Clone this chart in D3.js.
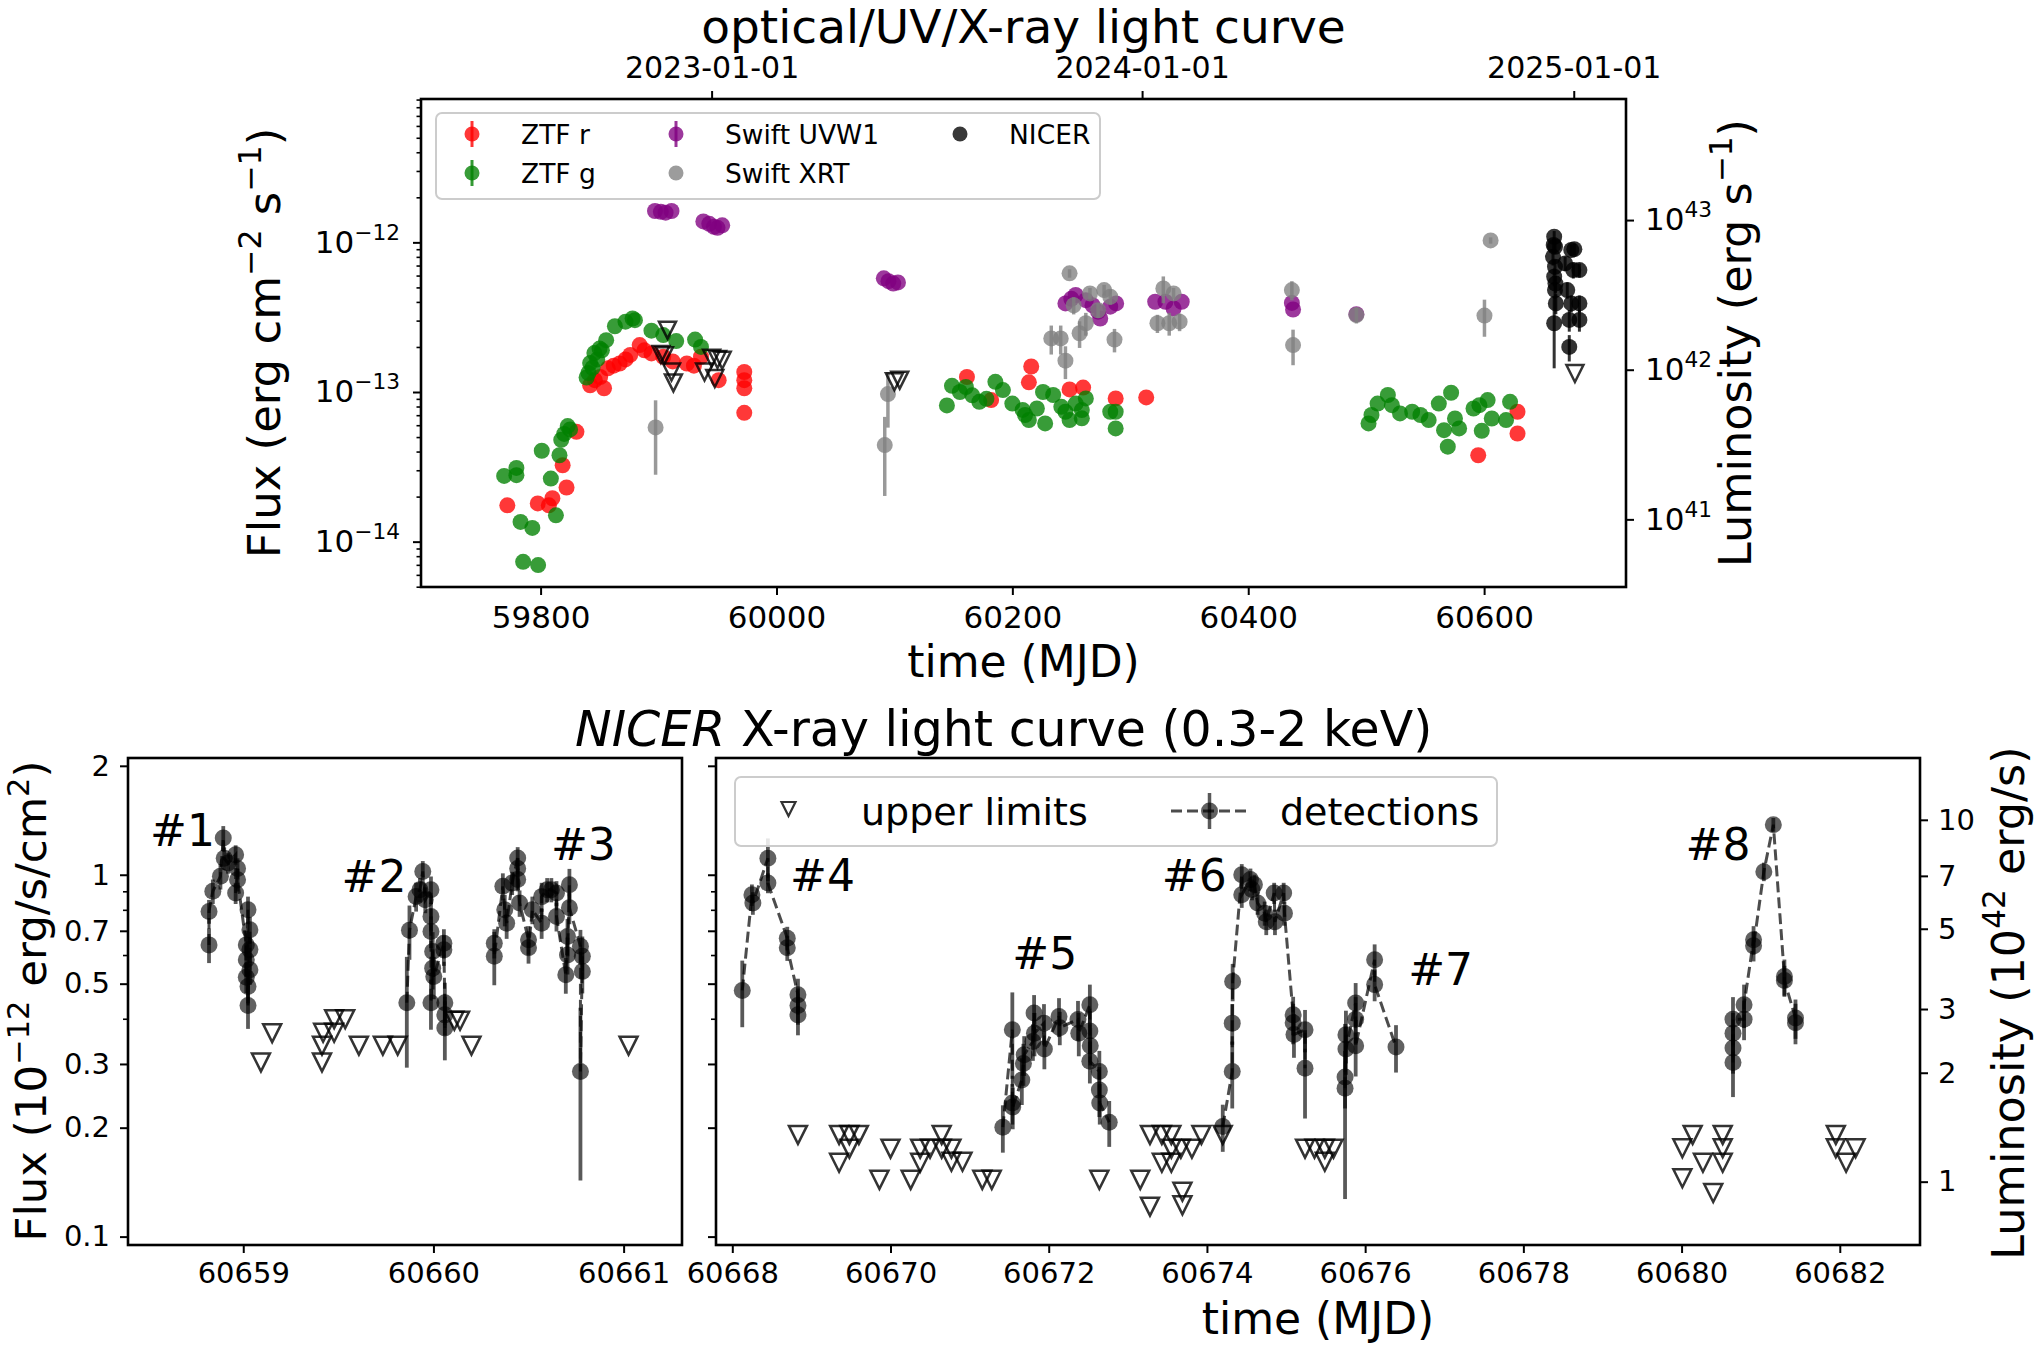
<!DOCTYPE html>
<html><head><meta charset="utf-8">
<script src="https://cdn.jsdelivr.net/npm/d3@7"></script>
<style>
body{margin:0;background:#fff;}
svg text{font-family:"DejaVu Sans",sans-serif;fill:#000;}
</style></head><body>
<div id="chart"></div>
<script>
// ================= DATA =================
// --- top panel (flux in erg cm^-2 s^-1, time in MJD)
const ztfR_mjd=[59771.8,59797.6,59807,59810,59818.7,59822,59830.4,59842,59846,59850.5,59853.8,59857,59862,59867,59872,59876,59884,59888,59894,59904,59912,59924,59930,59936,59951,59972.7,59972.7,59972.7,59972.7,60161.5,60182,60214,60216,60248.5,60260,60287.6,60313.5,60595,60628.3,60628.3];
const ztfR_flux=[1.75e-14,1.80e-14,1.75e-14,1.95e-14,3.24e-14,2.30e-14,5.42e-14,1.11e-13,1.2e-13,1.26e-13,1.06e-13,1.44e-13,1.5e-13,1.55e-13,1.65e-13,1.77e-13,2.06e-13,1.9e-13,1.81e-13,1.72e-13,1.6e-13,1.55e-13,1.5e-13,1.72e-13,1.20e-13,1.36e-13,1.20e-13,1.06e-13,7.26e-14,1.26e-13,8.83e-14,1.16e-13,1.48e-13,1.04e-13,1.07e-13,9.06e-14,9.2e-14,3.78e-14,5.28e-14,7.38e-14];

const ztfG_mjd=[59769.1,59779.5,59779.5,59783,59785.2,59793,59797.9,59801,59808.7,59813,59816,59817.5,59820,59823,59825,59839,59840.6,59842,59844,59845.6,59848,59850,59852,59855.6,59863,59872,59878,59880,59894,59904,59915,59931,59936,
60144.5,60148.8,60155.5,60160.6,60166,60172,60178,60185.6,60192,60200,60208.7,60210.8,60214,60220.8,60226,60227.8,60234.6,60241.5,60245,60248.5,60253.7,60258.9,60258.9,60262.3,60283,60287.6,60287.6,
60502,60504.5,60509.7,60518.4,60521.8,60528.7,60539,60546,60553,60561.6,60566,60569.2,60572,60575.3,60578.8,60591,60596,60598,60603,60606.5,60618.6,60622];
const ztfG_flux=[2.75e-14,3.11e-14,2.78e-14,1.355e-14,7.33e-15,1.236e-14,6.97e-15,4.05e-14,2.64e-14,1.50e-14,3.78e-14,4.79e-14,5.25e-14,5.92e-14,5.62e-14,1.25e-13,1.34e-13,1.56e-13,1.45e-13,1.82e-13,1.65e-13,1.95e-13,1.9e-13,2.22e-13,2.75e-13,2.95e-13,3.1e-13,3.02e-13,2.57e-13,2.40e-13,2.19e-13,2.24e-13,2.0e-13,
8.13e-14,1.10e-13,1.0e-13,1.08e-13,9.5e-14,8.6e-14,9.0e-14,1.17e-13,1.03e-13,8.37e-14,7.59e-14,7.02e-14,6.49e-14,7.76e-14,1.0e-13,6.17e-14,9.55e-14,7.96e-14,7.38e-14,6.49e-14,8.37e-14,6.67e-14,7.57e-14,9.06e-14,7.38e-14,7.38e-14,5.71e-14,
6.17e-14,7.02e-14,8.37e-14,9.55e-14,8.17e-14,7.19e-14,7.38e-14,7.02e-14,6.49e-14,8.37e-14,5.56e-14,4.31e-14,9.89e-14,6.65e-14,5.71e-14,7.76e-14,8.17e-14,5.5e-14,8.83e-14,6.65e-14,6.49e-14,8.6e-14];

const uvw1_mjd=[59897,59902,59906,59911,59938,59943,59947,59950,59954,60091,60095,60099,60103,60245,60250,60253.7,60262.3,60268,60272.7,60274.5,60283,60288,60321.1,60329.8,60336.7,60343.6,60437,60438,60491.7];
const uvw1_flux=[1.62e-12,1.60e-12,1.58e-12,1.62e-12,1.38e-12,1.33e-12,1.27e-12,1.25e-12,1.30e-12,5.75e-13,5.5e-13,5.3e-13,5.4e-13,3.91e-13,4.2e-13,4.45e-13,4.11e-13,3.8e-13,3.44e-13,3.1e-13,3.72e-13,3.91e-13,4.01e-13,4.01e-13,3.62e-13,4.01e-13,3.94e-13,3.56e-13,3.31e-13];

const xrt_mjd=[59897.5,60091.8,60094.5,60233,60241,60245,60248.5,60252,60257,60262.3,60265.8,60272.7,60277.8,60283,60286.6,60323,60328,60333,60336.7,60341.8,60437,60438,60491.7,60600.3,60605.5];
const xrt_flux=[5.8e-14,4.42e-14,9.68e-14,2.28e-13,2.28e-13,1.62e-13,6.21e-13,3.8e-13,2.47e-13,2.88e-13,4.56e-13,3.52e-13,4.8e-13,4.33e-13,2.24e-13,2.88e-13,4.92e-13,2.88e-13,4.56e-13,2.95e-13,4.8e-13,2.06e-13,3.27e-13,3.24e-13,1.03e-12];
const xrt_err=[3.0e-14,2.4e-14,3.9e-14,5e-14,5e-14,4e-14,4e-14,5e-14,5e-14,5e-14,4e-14,4e-14,4e-14,5e-14,4e-14,4e-14,1e-13,5e-14,4e-14,4e-14,7e-14,5.5e-14,4e-14,9e-14,5e-14];

const nicerTop_mjd=[60658.4,60659.0,60659.4,60659.4,60659.4,60660.1,60660.1,60660.1,60660.5,60660.8,60668.7,60670.5,60672.2,60672.2,60673.9,60673.9,60675.6,60676.5,60680.8,60680.8,60680.8];
const nicerTop_flux=[8.0e-13,9.6e-13,1.09e-12,5.89e-13,2.88e-13,9.35e-13,6.87e-13,4.8e-13,5.3e-13,3.91e-13,7.23e-13,4.8e-13,3.03e-13,2.0e-13,8.89e-13,3.91e-13,6.53e-13,9.0e-13,6.53e-13,3.91e-13,3.03e-13];
const nicerTop_err=[1e-13,1e-13,1e-13,8e-14,1.44e-13,1e-13,8e-14,6e-14,7e-14,6e-14,8e-14,6e-14,5e-14,4e-14,8e-14,5e-14,8e-14,8e-14,7e-14,5e-14,5e-14];

const ulTop_mjd=[59902,59905,59907.6,59911,59912.6,59939,59945,59947.7,59950,59954,60100,60104.5,60677];
const ulTop_flux=[1.78e-13,1.75e-13,2.59e-13,1.36e-13,1.15e-13,1.36e-13,1.68e-13,1.23e-13,1.65e-13,1.63e-13,1.17e-13,1.20e-13,1.33e-13];

const topXTicks=[59800,60000,60200,60400,60600];
const dateTickMjd=[59945,60310,60676];
const dateTickLabels=["2023-01-01","2024-01-01","2025-01-01"];
const topYTicks=[1e-14,1e-13,1e-12];
const topLumTicks=[1e41,1e42,1e43];
const LUM_FACTOR_TOP=Math.pow(10,54.851);

// --- bottom panels: NICER detections (flux in 1e-12 erg/s/cm2)
const det_mjd=[
60658.82,60658.82,60658.84,60658.88,60658.895,60658.90,60658.92,60658.96,60658.96,60658.97,60658.97,60659.016,60659.016,60659.016,60659.025,60659.025,60659.025,60659.035,60659.035,60659.035,
60659.86,60659.874,60659.909,60659.929,60659.944,60659.957,60659.987,60659.987,60659.987,60659.987,60659.996,60659.996,60660.002,60660.055,60660.055,60660.06,60660.06,60660.06,
60660.32,60660.32,60660.365,60660.375,60660.385,60660.414,60660.443,60660.443,60660.443,60660.453,60660.50,60660.50,60660.52,60660.569,60660.569,60660.598,60660.62,60660.647,60660.647,60660.696,60660.705,60660.705,60660.715,60660.715,60660.773,60660.773,60660.783,60660.783,
60668.126,60668.248,60668.26,60668.45,60668.45,60668.695,60668.695,60668.83,60668.83,60668.83,
60671.42,60671.54,60671.54,60671.545,60671.66,60671.68,60671.69,60671.8,60671.815,60671.82,60671.94,60671.945,60672.13,60672.14,60672.37,60672.38,60672.52,60672.52,60672.525,60672.52,60672.64,60672.64,60672.645,60672.765,
60674.2,60674.32,60674.32,60674.325,60674.44,60674.44,60674.55,60674.57,60674.6,60674.64,60674.73,60674.75,60674.85,60674.86,60674.97,60674.98,60675.09,60675.09,60675.1,60675.24,60675.24,
60675.746,60675.746,60675.757,60675.757,60675.88,60675.88,60675.88,60676.12,60676.12,60676.39,
60680.65,60680.65,60680.65,60680.65,60680.79,60680.79,60680.91,60680.91,60681.04,60681.16,60681.30,60681.30,60681.44,60681.44];
const det_flux=[
0.640,0.792,0.90,0.99,1.263,1.11,1.077,1.136,0.89,1.04,0.969,0.64,0.582,0.521,0.80,0.491,0.435,0.705,0.621,0.546,
0.443,0.702,0.871,0.909,1.021,0.853,0.909,0.767,0.697,0.443,0.614,0.552,0.523,0.647,0.62,0.443,0.41,0.377,
0.647,0.595,0.929,0.80,0.735,0.949,1.112,1.04,0.97,0.835,0.661,0.628,0.80,0.735,0.87,0.909,0.909,0.89,0.767,0.529,0.675,0.60,0.938,0.81,0.634,0.286,0.595,0.54,
0.479,0.88,0.835,1.11,0.949,0.668,0.628,0.466,0.435,0.41,
0.2006,0.373,0.234,0.228,0.271,0.301,0.318,0.346,0.415,0.365,0.389,0.33,0.406,0.378,0.398,0.365,0.437,0.37,0.337,0.305,0.286,0.254,0.234,0.207,
0.2015,0.286,0.389,0.507,1.0,0.88,0.97,0.91,0.94,0.835,0.783,0.741,0.89,0.741,0.89,0.783,0.41,0.39,0.362,0.373,0.292,
0.257,0.276,0.361,0.33,0.442,0.399,0.337,0.582,0.497,0.334,
0.303,0.332,0.365,0.399,0.399,0.437,0.661,0.636,1.02,1.375,0.523,0.51,0.402,0.39];
const det_err=[
0.07,0.06,0.07,0.08,0.10,0.08,0.07,0.07,0.06,0.07,0.07,0.06,0.06,0.05,0.07,0.05,0.06,0.06,0.05,0.05,
0.15,0.12,0.08,0.07,0.07,0.07,0.08,0.07,0.07,0.07,0.08,0.07,0.07,0.06,0.06,0.06,0.05,0.07,
0.06,0.1,0.08,0.08,0.07,0.07,0.08,0.07,0.07,0.07,0.06,0.06,0.07,0.07,0.08,0.07,0.07,0.07,0.07,0.06,0.08,0.07,0.1,0.08,0.07,0.143,0.08,0.07,
0.1,0.06,0.06,0.15,0.06,0.05,0.05,0.05,0.05,0.05,
0.03,0.1,0.03,0.03,0.04,0.04,0.04,0.04,0.05,0.05,0.05,0.04,0.05,0.04,0.05,0.05,0.06,0.05,0.04,0.04,0.04,0.04,0.03,0.03,
0.03,0.06,0.05,0.06,0.07,0.07,0.07,0.06,0.06,0.06,0.06,0.06,0.06,0.06,0.06,0.06,0.05,0.05,0.05,0.05,0.08,
0.13,0.05,0.06,0.05,0.06,0.06,0.06,0.06,0.05,0.05,
0.06,0.05,0.05,0.06,0.05,0.06,0.06,0.06,0.06,0.06,0.06,0.05,0.05,0.05];
const det_flare=[
1,1,1,1,1,1,1,1,1,1,1,1,1,1,1,1,1,1,1,1,
2,2,2,2,2,2,2,2,2,2,2,2,2,2,2,2,2,2,
3,3,3,3,3,3,3,3,3,3,3,3,3,3,3,3,3,3,3,3,3,3,3,3,3,3,3,3,
4,4,4,4,4,4,4,4,4,4,
5,5,5,5,5,5,5,5,5,5,5,5,5,5,5,5,5,5,5,5,5,5,5,5,
6,6,6,6,6,6,6,6,6,6,6,6,6,6,6,6,6,6,6,6,6,
7,7,7,7,7,7,7,7,7,7,
8,8,8,8,8,8,8,8,8,8,8,8,8,8];

const ul_mjd=[60659.093,60659.152,60659.414,60659.414,60659.42,60659.478,60659.478,60659.536,60659.608,60659.734,60659.812,60660.11,60660.14,60660.2,60661.026,
60668.83,60669.35,60669.35,60669.48,60669.48,60669.6,60669.86,60670.0,60670.255,60670.375,60670.375,60670.5,60670.647,60670.647,60670.77,60670.77,60670.91,60671.16,60671.28,
60672.64,60673.157,60673.28,60673.28,60673.43,60673.43,60673.55,60673.55,60673.55,60673.67,60673.69,60673.69,60673.81,60673.93,60674.2,
60675.24,60675.36,60675.49,60675.49,60675.6,
60680.01,60680.01,60680.14,60680.27,60680.4,60680.52,60680.52,60680.52,60681.95,60681.95,60682.08,60682.2];
const ul_flux=[0.303,0.365,0.303,0.337,0.366,0.366,0.399,0.399,0.337,0.337,0.337,0.395,0.395,0.337,0.337,
0.191,0.191,0.16,0.191,0.175,0.191,0.1435,0.175,0.1435,0.16,0.175,0.175,0.191,0.175,0.175,0.161,0.161,0.1435,0.1435,
0.1435,0.1435,0.191,0.121,0.191,0.16,0.191,0.175,0.16,0.175,0.133,0.122,0.175,0.191,0.191,
0.175,0.175,0.175,0.161,0.175,
0.1755,0.145,0.191,0.16,0.132,0.191,0.1755,0.16,0.191,0.1755,0.16,0.1755];

const flareLabels=["#1","#2","#3","#4","#5","#6","#7","#8"];
const flareLabelMjd=[60658.51,60659.517,60660.618,60668.73,60671.54,60673.43,60676.545,60680.05];
const flareLabelFlux=[1.197,0.894,1.10,0.899,0.548,0.899,0.496,1.10];

const botYTicks=[0.1,0.2,0.3,0.4,0.5,0.6,0.7,0.8,0.9,1,2];
const botYLabeled=[0.1,0.2,0.3,0.5,0.7,1,2];
const botLeftXTicks=[60659,60660,60661];
const botRightXTicks=[60668,60670,60672,60674,60676,60678,60680,60682];
const botLumTicks=[1,2,3,5,7,10];
const LUM_FACTOR_BOT=7.05;

// ================= DRAW =================
const W=2035,H=1345;
const svg=d3.select("#chart").append("svg").attr("width",W).attr("height",H).style("background","#fff");
const defs=svg.append("defs");
function clip(id,b){defs.append("clipPath").attr("id",id).append("rect").attr("x",b.l).attr("y",b.t).attr("width",b.r-b.l).attr("height",b.b-b.t);}

function setSup(textSel,parts,fs,shift){
  const sh=(shift===undefined?0.42:shift)*fs;
  textSel.text(null);
  let shifted=false;
  parts.forEach(p=>{
    const t=textSel.append("tspan").text(p.t);
    if(p.i) t.attr("font-style","italic");
    if(p.sup){t.attr("font-size",fs*0.7); if(!shifted){t.attr("dy",-sh);} shifted=true;}
    else if(shifted){t.attr("dy",sh); shifted=false;}
  });
}
function styleAxis(g,fs){
  g.select(".domain").remove();
  g.selectAll(".tick line").attr("stroke","#000").attr("stroke-width",2);
  g.selectAll(".tick text").attr("font-size",fs).attr("fill","#000").attr("font-family","DejaVu Sans");
}
const triPath=s=>`M${-s},${-s}L${s},${-s}L0,${s}Z`;
function zipIdx(n){return d3.range(n);}

// ---------- TOP PANEL ----------
const T={l:421,r:1626,t:99,b:587};
clip("clipT",T);
const xT=d3.scaleLinear().domain([59698.6,60720.3]).range([T.l,T.r]);
const yT=d3.scaleLog().domain([Math.pow(10,-14.303),Math.pow(10,-11.042)]).range([T.b,T.t]);
const yTL=d3.scaleLog().domain(yT.domain().map(v=>v*LUM_FACTOR_TOP)).range([T.b,T.t]);

const gT=svg.append("g").attr("clip-path","url(#clipT)");
function circles(g,xs,ys,mjd,flux,color,r,op){
  g.append("g").selectAll("circle").data(zipIdx(mjd.length)).join("circle")
    .attr("cx",i=>xs(mjd[i])).attr("cy",i=>ys(flux[i])).attr("r",r)
    .attr("fill",color).attr("fill-opacity",op);
}
function errbars(g,xs,ys,mjd,flux,err,color,w,op){
  g.append("g").selectAll("line").data(zipIdx(mjd.length)).join("line")
    .attr("x1",i=>xs(mjd[i])).attr("x2",i=>xs(mjd[i]))
    .attr("y1",i=>ys(Math.max(flux[i]-err[i],1e-30))).attr("y2",i=>ys(flux[i]+err[i]))
    .attr("stroke",color).attr("stroke-width",w).attr("stroke-opacity",op);
}
function tris(g,xs,ys,mjd,flux,s,w){
  g.append("g").selectAll("path").data(zipIdx(mjd.length)).join("path")
    .attr("transform",i=>`translate(${xs(mjd[i])},${ys(flux[i])})`)
    .attr("d",triPath(s)).attr("fill","none").attr("stroke","#000").attr("stroke-opacity",0.8).attr("stroke-width",w);
}
circles(gT,xT,yT,ztfR_mjd,ztfR_flux,"#ff0000",8,0.78);
circles(gT,xT,yT,ztfG_mjd,ztfG_flux,"#008000",8,0.78);
circles(gT,xT,yT,uvw1_mjd,uvw1_flux,"#800080",8,0.78);
errbars(gT,xT,yT,xrt_mjd,xrt_flux,xrt_err,"#808080",3.5,0.8);
circles(gT,xT,yT,xrt_mjd,xrt_flux,"#808080",8,0.78);
errbars(gT,xT,yT,nicerTop_mjd,nicerTop_flux,nicerTop_err,"#000",3,0.8);
circles(gT,xT,yT,nicerTop_mjd,nicerTop_flux,"#000",8,0.8);
tris(gT,xT,yT,ulTop_mjd,ulTop_flux,8.5,2.5);

// top axes
const axTB=svg.append("g").attr("transform",`translate(0,${T.b})`)
  .call(d3.axisBottom(xT).tickValues(topXTicks).tickFormat(d3.format("d")).tickSize(8).tickPadding(11));
styleAxis(axTB,31);
const axTT=svg.append("g").attr("transform",`translate(0,${T.t})`)
  .call(d3.axisTop(xT).tickValues(dateTickMjd).tickFormat((d,i)=>dateTickLabels[i]).tickSize(8).tickPadding(13));
styleAxis(axTT,30);
const minorT=[];
for(let e=-15;e<=-12;e++)for(let k=2;k<=9;k++){const v=k*Math.pow(10,e);if(v>=yT.domain()[0]&&v<=yT.domain()[1])minorT.push(v);}
const axTLm=svg.append("g").attr("transform",`translate(${T.l},0)`)
  .call(d3.axisLeft(yT).tickValues(minorT).tickFormat("").tickSize(4.5));
styleAxis(axTLm,31); axTLm.selectAll(".tick line").attr("stroke-width",1.6);
const axTL=svg.append("g").attr("transform",`translate(${T.l},0)`)
  .call(d3.axisLeft(yT).tickValues(topYTicks).tickSize(8).tickPadding(13));
styleAxis(axTL,31);
axTL.selectAll(".tick text").each(function(d){setSup(d3.select(this),[{t:"10"},{t:"\u2212"+Math.round(-Math.log10(d)),sup:true}],31);});
const axTR=svg.append("g").attr("transform",`translate(${T.r},0)`)
  .call(d3.axisRight(yTL).tickValues(topLumTicks).tickSize(8).tickPadding(11));
styleAxis(axTR,31);
axTR.selectAll(".tick text").each(function(d){setSup(d3.select(this),[{t:"10"},{t:String(Math.round(Math.log10(d))),sup:true}],31);});
svg.append("rect").attr("x",T.l).attr("y",T.t).attr("width",T.r-T.l).attr("height",T.b-T.t)
  .attr("fill","none").attr("stroke","#000").attr("stroke-width",2.6);

// top labels
svg.append("text").attr("x",(T.l+T.r)/2).attr("y",43).attr("text-anchor","middle").attr("font-size",47).text("optical/UV/X-ray light curve");
svg.append("text").attr("x",(T.l+T.r)/2).attr("y",677).attr("text-anchor","middle").attr("font-size",44).text("time (MJD)");
setSup(svg.append("text").attr("transform",`translate(280,${(T.t+T.b)/2}) rotate(-90)`).attr("text-anchor","middle").attr("font-size",45),
  [{t:"Flux (erg cm"},{t:"\u22122",sup:true},{t:" s"},{t:"\u22121",sup:true},{t:")"}],45);
setSup(svg.append("text").attr("transform",`translate(1751,${(T.t+T.b)/2}) rotate(-90)`).attr("text-anchor","middle").attr("font-size",44.5),
  [{t:"Luminosity (erg s"},{t:"\u22121",sup:true},{t:")"}],44.5);

// top legend
const lg=svg.append("g");
lg.append("rect").attr("x",436).attr("y",113).attr("width",664).attr("height",86).attr("rx",6)
  .attr("fill","#fff").attr("fill-opacity",0.85).attr("stroke","#cccccc").attr("stroke-width",2);
const legItems=[
 {label:"ZTF r",color:"#ff0000",err:true,x:472,y:134},
 {label:"ZTF g",color:"#008000",err:true,x:472,y:173},
 {label:"Swift UVW1",color:"#800080",err:true,x:676,y:134},
 {label:"Swift XRT",color:"#808080",err:false,x:676,y:173},
 {label:"NICER",color:"#000",err:false,x:960,y:134}];
legItems.forEach(it=>{
  if(it.err) lg.append("line").attr("x1",it.x).attr("x2",it.x).attr("y1",it.y-13).attr("y2",it.y+13).attr("stroke",it.color).attr("stroke-width",3).attr("stroke-opacity",0.8);
  lg.append("circle").attr("cx",it.x).attr("cy",it.y).attr("r",7.5).attr("fill",it.color).attr("fill-opacity",0.78);
  lg.append("text").attr("x",it.x+49).attr("y",it.y).attr("dy","0.36em").attr("font-size",26.5).text(it.label);
});

// ---------- BOTTOM PANELS ----------
const BL={l:128,r:682,t:758,b:1245}, BR={l:716,r:1920,t:758,b:1245};
clip("clipBL",BL); clip("clipBR",BR);
const yB=d3.scaleLog().domain([0.0948,2.102]).range([BL.b,BL.t]);
const yBL=d3.scaleLog().domain(yB.domain().map(v=>v*LUM_FACTOR_BOT)).range([BL.b,BL.t]);
const xBL=d3.scaleLinear().domain([60658.394,60661.307]).range([BL.l,BL.r]);
const xBR=d3.scaleLinear().domain([60667.794,60683.014]).range([BR.l,BR.r]);

function drawNicer(xs,box,id){
  const g=svg.append("g").attr("clip-path",`url(#${id})`);
  const idx=zipIdx(det_mjd.length);
  const groups=d3.group(idx,i=>det_flare[i]);
  const line=d3.line().x(i=>xs(det_mjd[i])).y(i=>yB(det_flux[i]));
  for(const [k,arr] of groups){
    g.append("path").attr("d",line(arr)).attr("fill","none").attr("stroke","#000").attr("stroke-opacity",0.7)
      .attr("stroke-width",3).attr("stroke-dasharray","11,5");
  }
  errbars(g,xs,yB,det_mjd,det_flux,det_err,"#000",3.8,0.65);
  circles(g,xs,yB,det_mjd,det_flux,"#000",8.5,0.62);
  tris(g,xs,yB,ul_mjd,ul_flux,9,2.5);
  flareLabels.forEach((lab,i)=>{
    const x=xs(flareLabelMjd[i]);
    if(x>=box.l&&x<=box.r) svg.append("text").attr("x",x).attr("y",yB(flareLabelFlux[i])).attr("font-size",44).text(lab);
  });
}
drawNicer(xBL,BL,"clipBL");
drawNicer(xBR,BR,"clipBR");

// bottom axes
const axBLx=svg.append("g").attr("transform",`translate(0,${BL.b})`)
  .call(d3.axisBottom(xBL).tickValues(botLeftXTicks).tickFormat(d3.format("d")).tickSize(8).tickPadding(9));
styleAxis(axBLx,29);
const axBRx=svg.append("g").attr("transform",`translate(0,${BR.b})`)
  .call(d3.axisBottom(xBR).tickValues(botRightXTicks).tickFormat(d3.format("d")).tickSize(8).tickPadding(9));
styleAxis(axBRx,29);
const fmtB=d=>botYLabeled.includes(d)?(d>=1?String(d):d.toFixed(1)):"";
const axBLy=svg.append("g").attr("transform",`translate(${BL.l},0)`)
  .call(d3.axisLeft(yB).tickValues(botYTicks).tickFormat(fmtB).tickSize(8).tickPadding(10));
styleAxis(axBLy,29);
axBLy.selectAll(".tick").filter(d=>!botYLabeled.includes(d)).select("line").attr("x2",-5).attr("stroke-width",1.6);
const axBRy=svg.append("g").attr("transform",`translate(${BR.l},0)`)
  .call(d3.axisLeft(yB).tickValues(botYTicks).tickFormat("").tickSize(8));
styleAxis(axBRy,29);
axBRy.selectAll(".tick").filter(d=>!botYLabeled.includes(d)).select("line").attr("x2",-5).attr("stroke-width",1.6);
const axBRr=svg.append("g").attr("transform",`translate(${BR.r},0)`)
  .call(d3.axisRight(yBL).tickValues(botLumTicks).tickFormat(d3.format("d")).tickSize(8).tickPadding(10));
styleAxis(axBRr,29);
[BL,BR].forEach(b=>svg.append("rect").attr("x",b.l).attr("y",b.t).attr("width",b.r-b.l).attr("height",b.b-b.t)
  .attr("fill","none").attr("stroke","#000").attr("stroke-width",2.6));

// bottom legend
const lb=svg.append("g");
lb.append("rect").attr("x",735).attr("y",777).attr("width",762).attr("height",69).attr("rx",6)
  .attr("fill","#fff").attr("fill-opacity",0.85).attr("stroke","#cccccc").attr("stroke-width",2);
lb.append("path").attr("transform","translate(788.5,809)").attr("d",triPath(7)).attr("fill","none").attr("stroke","#000").attr("stroke-opacity",0.8).attr("stroke-width",2.2);
lb.append("text").attr("x",861).attr("y",811).attr("dy","0.36em").attr("font-size",38).text("upper limits");
lb.append("line").attr("x1",1171).attr("x2",1248).attr("y1",811).attr("y2",811).attr("stroke","#000").attr("stroke-opacity",0.7).attr("stroke-width",3).attr("stroke-dasharray","11,5");
lb.append("line").attr("x1",1209.5).attr("x2",1209.5).attr("y1",793).attr("y2",829).attr("stroke","#000").attr("stroke-opacity",0.65).attr("stroke-width",3.5);
lb.append("circle").attr("cx",1209.5).attr("cy",811).attr("r",8.5).attr("fill","#000").attr("fill-opacity",0.62);
lb.append("text").attr("x",1280).attr("y",811).attr("dy","0.36em").attr("font-size",38).text("detections");

// bottom labels
setSup(svg.append("text").attr("x",575).attr("y",746).attr("font-size",49),
  [{t:"NICER",i:true},{t:" X-ray light curve (0.3-2 keV)"}],49);
svg.append("text").attr("x",(BR.l+BR.r)/2).attr("y",1334).attr("text-anchor","middle").attr("font-size",44).text("time (MJD)");
setSup(svg.append("text").attr("transform",`translate(46,1001) rotate(-90)`).attr("text-anchor","middle").attr("font-size",43.5),
  [{t:"Flux (10"},{t:"\u221212",sup:true},{t:" erg/s/cm"},{t:"2",sup:true},{t:")"}],43.5,0.38);
setSup(svg.append("text").attr("transform",`translate(2024,1003) rotate(-90)`).attr("text-anchor","middle").attr("font-size",44.5),
  [{t:"Luminosity (10"},{t:"42",sup:true},{t:" erg/s)"}],44.5);
</script>
</body></html>
